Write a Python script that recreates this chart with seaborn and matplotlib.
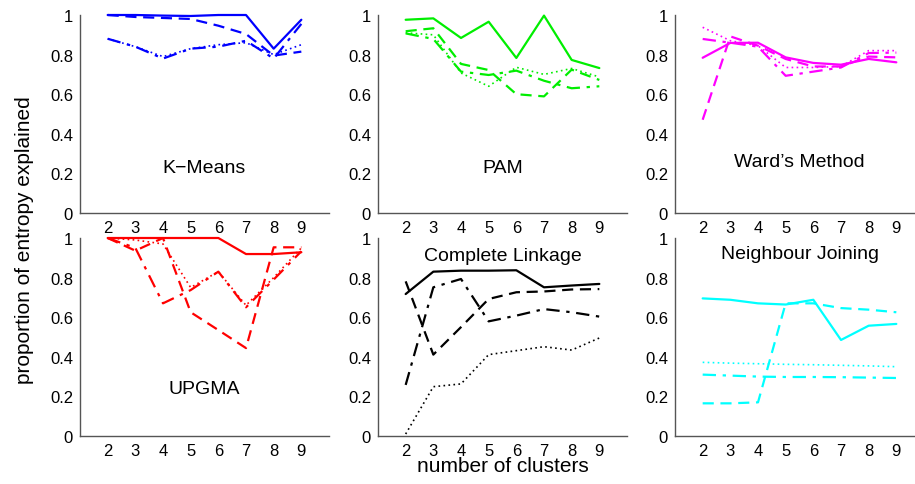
import matplotlib
matplotlib.use("Agg")
import matplotlib.pyplot as plt
import seaborn as sns
import numpy as np

sns.set_style("white")
plt.rcParams['font.family'] = ['Liberation Sans', 'DejaVu Sans']
plt.rcParams['text.color'] = 'black'

clusters = [2, 3, 4, 5, 6, 7, 8, 9]

methods = ["K\u2212Means", "PAM", "Ward\u2019s Method",
           "UPGMA", "Complete Linkage", "Neighbour Joining"]
colors = ["#0000ff", "#00ee00", "#ff00ff", "#ff0000", "#000000", "#00ffff"]

# series per method: solid, dashed, dash-dot, dotted
kmeans_solid = [1.0, 1.0, 0.997, 0.995, 1.0, 1.0, 0.83, 0.976]
kmeans_dashed = [1.0, 0.99, 0.985, 0.98, 0.946, 0.904, 0.795, 0.815]
kmeans_dashdot = [0.88, 0.84, 0.78, 0.83, 0.84, 0.87, 0.78, 0.955]
kmeans_dotted = [0.88, 0.84, 0.79, 0.83, 0.85, 0.86, 0.80, 0.85]

pam_solid = [0.976, 0.983, 0.884, 0.966, 0.783, 0.997, 0.773, 0.732]
pam_dashed = [0.918, 0.933, 0.753, 0.722, 0.60, 0.589, 0.724, 0.672]
pam_dashdot = [0.907, 0.879, 0.714, 0.697, 0.719, 0.668, 0.63, 0.64]
pam_dotted = [0.91, 0.90, 0.707, 0.64, 0.736, 0.70, 0.73, 0.687]

ward_solid = [0.784, 0.859, 0.86, 0.786, 0.758, 0.749, 0.778, 0.761]
ward_dashed = [0.471, 0.892, 0.845, 0.778, 0.74, 0.74, 0.79, 0.786]
ward_dashdot = [0.879, 0.86, 0.84, 0.693, 0.714, 0.735, 0.808, 0.81]
ward_dotted = [0.938, 0.87, 0.845, 0.735, 0.735, 0.74, 0.82, 0.82]

upgma_solid = [1.0, 1.0, 1.0, 1.0, 1.0, 0.919, 0.919, 0.928]
upgma_dashed = [1.0, 0.936, 1.0, 0.625, 0.535, 0.444, 0.953, 0.953]
upgma_dashdot = [1.0, 0.95, 0.67, 0.737, 0.83, 0.65, 0.79, 0.933]
upgma_dotted = [1.0, 0.99, 0.97, 0.75, 0.83, 0.66, 0.80, 0.95]

complete_solid = [0.717, 0.83, 0.835, 0.835, 0.837, 0.751, 0.76, 0.768]
complete_dashed = [0.781, 0.411, 0.55, 0.692, 0.726, 0.73, 0.74, 0.742]
complete_dashdot = [0.258, 0.751, 0.793, 0.579, 0.608, 0.641, 0.625, 0.603]
complete_dotted = [0.01, 0.249, 0.263, 0.411, 0.431, 0.451, 0.434, 0.495]

nj_solid = [0.695, 0.688, 0.67, 0.664, 0.688, 0.485, 0.557, 0.566]
nj_dashed = [0.165, 0.165, 0.17, 0.67, 0.67, 0.646, 0.638, 0.625]
nj_dashdot = [0.31, 0.305, 0.30, 0.298, 0.298, 0.297, 0.295, 0.293]
nj_dotted = [0.372, 0.368, 0.365, 0.362, 0.36, 0.357, 0.354, 0.35]

all_series = [
    [kmeans_solid, kmeans_dashed, kmeans_dashdot, kmeans_dotted],
    [pam_solid, pam_dashed, pam_dashdot, pam_dotted],
    [ward_solid, ward_dashed, ward_dashdot, ward_dotted],
    [upgma_solid, upgma_dashed, upgma_dashdot, upgma_dotted],
    [complete_solid, complete_dashed, complete_dashdot, complete_dotted],
    [nj_solid, nj_dashed, nj_dashdot, nj_dotted],
]
styles = ["-", (0, (5, 3)), (0, (6, 3, 1.5, 3)), (0, (1, 2))]
widths = [1.6, 1.6, 1.6, 1.2]

# label positions (data coords)
label_pos = [(5.5, 0.23), (5.5, 0.23), (5.5, 0.26),
             (5.5, 0.24), (5.5, 0.91), (5.5, 0.92)]

W, H = 915, 485
fig = plt.figure(figsize=(W / 100, H / 100), dpi=100)
lefts = [80, 378, 675]
bottoms = [214, 437]
aw, ah = 249, 198

yticks = [0, 0.2, 0.4, 0.6, 0.8, 1]
yticklabels = ["0", "0.2", "0.4", "0.6", "0.8", "1"]

for i in range(6):
    r, c = divmod(i, 3)
    ax = fig.add_axes([lefts[c] / W, 1 - bottoms[r] / H, aw / W, ah / H])
    for s, ls, lw in zip(all_series[i], styles, widths):
        sns.lineplot(x=clusters, y=s, ax=ax, color=colors[i], linestyle=ls,
                     linewidth=lw, clip_on=False)
    ax.set_xlim(1, 10)
    ax.set_ylim(0, 1)
    ax.set_xticks(clusters)
    ax.set_xticklabels([str(v) for v in clusters])
    ax.set_yticks(yticks)
    ax.set_yticklabels(yticklabels)
    ax.tick_params(direction="in", length=3, width=0.8, colors="#555555",
                   labelcolor="black", labelsize=12, pad=5)
    for sp in ["top", "right"]:
        ax.spines[sp].set_visible(False)
    for sp in ["left", "bottom"]:
        ax.spines[sp].set_color("#555555")
        ax.spines[sp].set_linewidth(1.0)
    ax.patch.set_alpha(0)
    ax.text(label_pos[i][0], label_pos[i][1], methods[i], ha="center",
            va="center", fontsize=14, color="black")

fig.text(25 / W, 1 - 240 / H, "proportion of entropy explained", rotation=90,
         ha="center", va="center", fontsize=15, color="black")
fig.text(503 / W, 1 - 467 / H, "number of clusters", ha="center",
         va="center", fontsize=15, color="black")

fig.savefig("out.png", dpi=100)
